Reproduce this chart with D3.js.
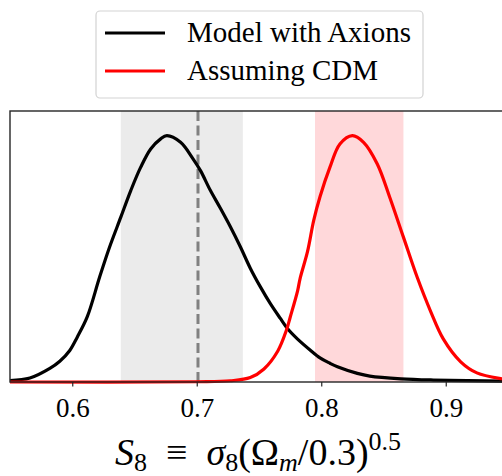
<!DOCTYPE html>
<html>
<head>
<meta charset="utf-8">
<script src="https://cdn.jsdelivr.net/npm/d3@7"></script>
<style>
  html, body { margin: 0; padding: 0; background: #fff; }
  svg { display: block; }
  text { font-family: "Liberation Serif", "Times New Roman", serif; fill: #000; }
</style>
</head>
<body>
<script>
// ---- data ----
const axionS8 = [0.550,0.566,0.582,0.590,0.598,0.604,0.612,0.622,0.630,0.639,0.647,0.655,0.663,0.671,0.676,0.687,0.697,0.703,0.711,0.719,0.727,0.735,0.743,0.751,0.759,0.767,0.773,0.781,0.791,0.799,0.807,0.813,0.829,0.839,0.864,0.890,0.950];
const axionP  = [0.006,0.016,0.055,0.084,0.128,0.182,0.264,0.426,0.548,0.669,0.777,0.872,0.946,0.987,1.000,0.973,0.906,0.858,0.777,0.705,0.630,0.549,0.462,0.387,0.319,0.259,0.216,0.174,0.130,0.098,0.076,0.062,0.035,0.024,0.013,0.008,0.003];
const cdmS8   = [0.550,0.700,0.727,0.743,0.754,0.765,0.772,0.775,0.781,0.783,0.789,0.794,0.799,0.807,0.815,0.825,0.834,0.845,0.855,0.866,0.877,0.888,0.898,0.912,0.925,0.945,0.950];
const cdmP    = [0.000,0.001,0.005,0.018,0.053,0.125,0.210,0.262,0.370,0.420,0.530,0.657,0.752,0.872,0.966,1.000,0.973,0.885,0.750,0.588,0.426,0.285,0.175,0.082,0.037,0.013,0.010];
const axionBand = [0.639, 0.737];
const cdmBand   = [0.795, 0.866];
const refLine   = 0.701;
const xTicks    = [0.6, 0.7, 0.8, 0.9];
const xDomain   = [0.55, 0.95];
const seriesNames = ["Model with Axions", "Assuming CDM"];

// ---- layout ----
const W = 502, H = 476;
const mL = 10, mR = 508, mT = 111, mB = 382;

const svg = d3.select("body").append("svg").attr("width", W).attr("height", H);

const x = d3.scaleLinear().domain(xDomain).range([mL, mR]);
const y = d3.scaleLinear().domain([0, 1.1]).range([mB, mT]);

// bands
svg.append("rect")
  .attr("x", x(axionBand[0])).attr("y", mT)
  .attr("width", x(axionBand[1]) - x(axionBand[0])).attr("height", mB - mT)
  .attr("fill", "#ebebeb");
svg.append("rect")
  .attr("x", x(cdmBand[0])).attr("y", mT)
  .attr("width", x(cdmBand[1]) - x(cdmBand[0])).attr("height", mB - mT)
  .attr("fill", "#ffd8da");

// dashed reference line
svg.append("line")
  .attr("x1", x(refLine)).attr("x2", x(refLine))
  .attr("y1", mT).attr("y2", mB)
  .attr("stroke", "#808080").attr("stroke-width", 3)
  .attr("stroke-dasharray", "10,4.5");

const line = d3.line().x(d => x(d[0])).y(d => y(d[1])).curve(d3.curveCatmullRom.alpha(0.5));

svg.append("path")
  .datum(d3.zip(axionS8, axionP))
  .attr("d", line).attr("fill", "none")
  .attr("stroke", "#000").attr("stroke-width", 3.2);
svg.append("path")
  .datum(d3.zip(cdmS8, cdmP))
  .attr("d", line).attr("fill", "none")
  .attr("stroke", "#ff0000").attr("stroke-width", 3.2);

// frame
svg.append("rect")
  .attr("x", mL).attr("y", mT)
  .attr("width", mR - mL).attr("height", mB - mT)
  .attr("fill", "none").attr("stroke", "#262626").attr("stroke-width", 1.4);

// x axis
const xAxis = d3.axisBottom(x)
  .tickValues(xTicks)
  .tickFormat(d3.format(".1f"))
  .tickSize(4.5)
  .tickPadding(11);
const gx = svg.append("g").attr("transform", `translate(0,${mB})`).call(xAxis);
gx.select(".domain").remove();
gx.selectAll(".tick line").attr("stroke", "#262626").attr("stroke-width", 1.2);
gx.selectAll(".tick text")
  .attr("font-family", "Liberation Serif, serif")
  .attr("font-size", 27).attr("fill", "#000");

// x label
const lab = svg.append("text")
  .attr("x", (mL + mR) / 2 - 1).attr("y", 465)
  .attr("text-anchor", "middle")
  .attr("font-size", 38);
lab.append("tspan").attr("font-style", "italic").text("S");
lab.append("tspan").attr("font-size", 26).attr("dy", 6).text("8");
lab.append("tspan").attr("dy", -6).text("\u2002\u2261\u2002");
lab.append("tspan").attr("font-style", "italic").text("\u03C3");
lab.append("tspan").attr("font-size", 26).attr("dy", 6).text("8");
lab.append("tspan").attr("dy", -6).text("(\u03A9");
lab.append("tspan").attr("font-style", "italic").attr("font-size", 26).attr("dy", 6).text("m");
lab.append("tspan").attr("dy", -6).text("/0.3)");
lab.append("tspan").attr("font-size", 26).attr("dy", -15).text("0.5");

// legend
const lg = svg.append("g");
lg.append("rect")
  .attr("x", 96).attr("y", 11).attr("width", 327).attr("height", 87)
  .attr("rx", 4).attr("ry", 4)
  .attr("fill", "#fff").attr("stroke", "#d3d3d3").attr("stroke-width", 1.2);
const legColors = ["#000", "#ff0000"];
const legY = [33, 71];
seriesNames.forEach((name, i) => {
  lg.append("line")
    .attr("x1", 105).attr("x2", 165)
    .attr("y1", legY[i]).attr("y2", legY[i])
    .attr("stroke", legColors[i]).attr("stroke-width", 3.2);
  lg.append("text")
    .attr("x", 187).attr("y", legY[i] + 9)
    .attr("font-size", 29)
    .text(name);
});
</script>
</body>
</html>
